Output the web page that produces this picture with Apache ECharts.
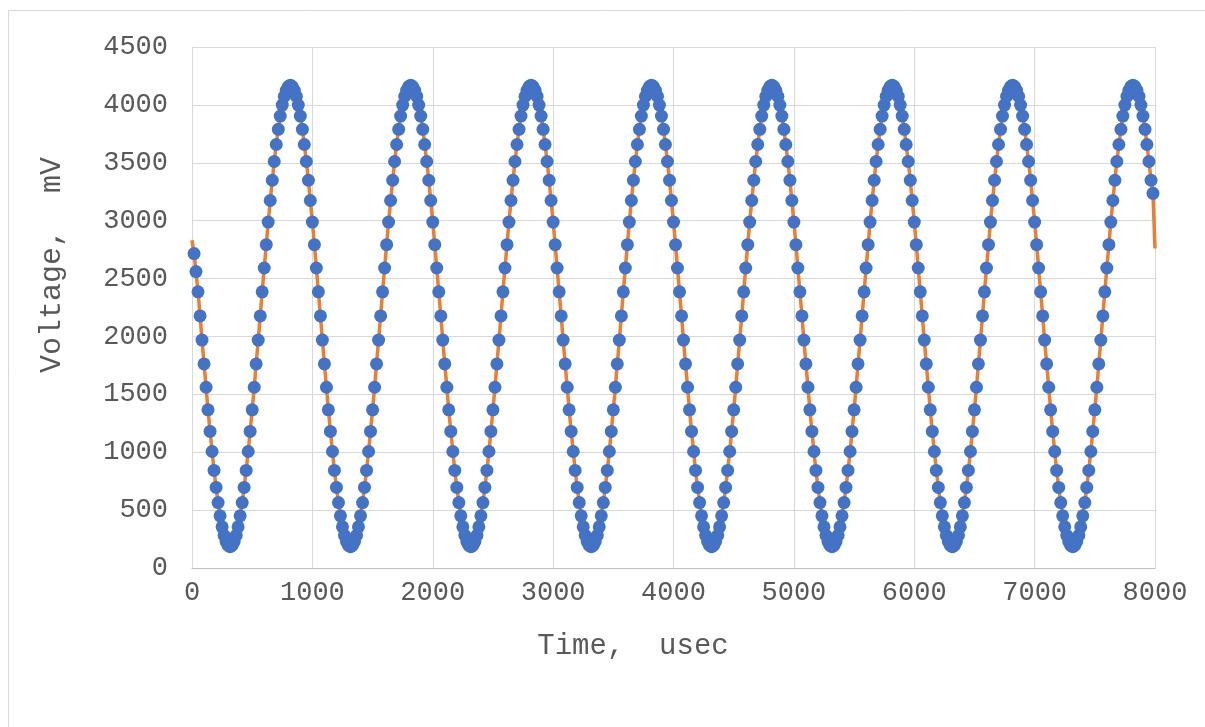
<!DOCTYPE html>
<html>
<head>
<meta charset="utf-8">
<style>
html,body{margin:0;padding:0;background:#fff;}
#chart{width:1205px;height:727px;}
</style>
<script src="https://cdn.jsdelivr.net/npm/echarts@6/dist/echarts.min.js"></script>
</head>
<body>
<div id="chart"></div>
<script>
// Sample times (usec)
const timeUs = [
17,33,50,67,83,100,117,133,150,167,183,200,217,233,250,267,283,300,317,333,350,367,383,400,417,433,450,467,483,500,517,533,550,567,583,600,617,633,650,667,683,700,717,733,750,767,783,800,817,833,850,867,883,900,917,933,950,967,983,1000,
1017,1033,1050,1067,1083,1100,1117,1133,1150,1167,1183,1200,1217,1233,1250,1267,1283,1300,1317,1333,1350,1367,1383,1400,1417,1433,1450,1467,1483,1500,1517,1533,1550,1567,1583,1600,1617,1633,1650,1667,1683,1700,1717,1733,1750,1767,1783,1800,1817,1833,1850,1867,1883,1900,1917,1933,1950,1967,1983,2000,
2017,2033,2050,2067,2083,2100,2117,2133,2150,2167,2183,2200,2217,2233,2250,2267,2283,2300,2317,2333,2350,2367,2383,2400,2417,2433,2450,2467,2483,2500,2517,2533,2550,2567,2583,2600,2617,2633,2650,2667,2683,2700,2717,2733,2750,2767,2783,2800,2817,2833,2850,2867,2883,2900,2917,2933,2950,2967,2983,3000,
3017,3033,3050,3067,3083,3100,3117,3133,3150,3167,3183,3200,3217,3233,3250,3267,3283,3300,3317,3333,3350,3367,3383,3400,3417,3433,3450,3467,3483,3500,3517,3533,3550,3567,3583,3600,3617,3633,3650,3667,3683,3700,3717,3733,3750,3767,3783,3800,3817,3833,3850,3867,3883,3900,3917,3933,3950,3967,3983,4000,
4017,4033,4050,4067,4083,4100,4117,4133,4150,4167,4183,4200,4217,4233,4250,4267,4283,4300,4317,4333,4350,4367,4383,4400,4417,4433,4450,4467,4483,4500,4517,4533,4550,4567,4583,4600,4617,4633,4650,4667,4683,4700,4717,4733,4750,4767,4783,4800,4817,4833,4850,4867,4883,4900,4917,4933,4950,4967,4983,5000,
5017,5033,5050,5067,5083,5100,5117,5133,5150,5167,5183,5200,5217,5233,5250,5267,5283,5300,5317,5333,5350,5367,5383,5400,5417,5433,5450,5467,5483,5500,5517,5533,5550,5567,5583,5600,5617,5633,5650,5667,5683,5700,5717,5733,5750,5767,5783,5800,5817,5833,5850,5867,5883,5900,5917,5933,5950,5967,5983,6000,
6017,6033,6050,6067,6083,6100,6117,6133,6150,6167,6183,6200,6217,6233,6250,6267,6283,6300,6317,6333,6350,6367,6383,6400,6417,6433,6450,6467,6483,6500,6517,6533,6550,6567,6583,6600,6617,6633,6650,6667,6683,6700,6717,6733,6750,6767,6783,6800,6817,6833,6850,6867,6883,6900,6917,6933,6950,6967,6983,7000,
7017,7033,7050,7067,7083,7100,7117,7133,7150,7167,7183,7200,7217,7233,7250,7267,7283,7300,7317,7333,7350,7367,7383,7400,7417,7433,7450,7467,7483,7500,7517,7533,7550,7567,7583,7600,7617,7633,7650,7667,7683,7700,7717,7733,7750,7767,7783,7800,7817,7833,7850,7867,7883,7900,7917,7933,7950,7967,7983
];

// Measured voltage (mV)
const voltageMv = [
2716,2560,2385,2177,1969,1763,1561,1366,1180,1006,843,696,565,451,356,281,228,195,184,195,228,281,356,451,565,696,843,1006,1180,1366,1561,1763,1969,2177,2385,2591,2793,2988,3174,3349,3511,3658,3789,3903,3998,4073,4126,4159,4170,4159,4126,4073,3998,3903,3789,3658,3511,3349,3174,2988,
2793,2591,2385,2177,1969,1763,1561,1366,1180,1006,843,696,565,451,356,281,228,195,184,195,228,281,356,451,565,696,843,1006,1180,1366,1561,1763,1969,2177,2385,2591,2793,2988,3174,3349,3511,3658,3789,3903,3998,4073,4126,4159,4170,4159,4126,4073,3998,3903,3789,3658,3511,3349,3174,2988,
2793,2591,2385,2177,1969,1763,1561,1366,1180,1006,843,696,565,451,356,281,228,195,184,195,228,281,356,451,565,696,843,1006,1180,1366,1561,1763,1969,2177,2385,2591,2793,2988,3174,3349,3511,3658,3789,3903,3998,4073,4126,4159,4170,4159,4126,4073,3998,3903,3789,3658,3511,3349,3174,2988,
2793,2591,2385,2177,1969,1763,1561,1366,1180,1006,843,696,565,451,356,281,228,195,184,195,228,281,356,451,565,696,843,1006,1180,1366,1561,1763,1969,2177,2385,2591,2793,2988,3174,3349,3511,3658,3789,3903,3998,4073,4126,4159,4170,4159,4126,4073,3998,3903,3789,3658,3511,3349,3174,2988,
2793,2591,2385,2177,1969,1763,1561,1366,1180,1006,843,696,565,451,356,281,228,195,184,195,228,281,356,451,565,696,843,1006,1180,1366,1561,1763,1969,2177,2385,2591,2793,2988,3174,3349,3511,3658,3789,3903,3998,4073,4126,4159,4170,4159,4126,4073,3998,3903,3789,3658,3511,3349,3174,2988,
2793,2591,2385,2177,1969,1763,1561,1366,1180,1006,843,696,565,451,356,281,228,195,184,195,228,281,356,451,565,696,843,1006,1180,1366,1561,1763,1969,2177,2385,2591,2793,2988,3174,3349,3511,3658,3789,3903,3998,4073,4126,4159,4170,4159,4126,4073,3998,3903,3789,3658,3511,3349,3174,2988,
2793,2591,2385,2177,1969,1763,1561,1366,1180,1006,843,696,565,451,356,281,228,195,184,195,228,281,356,451,565,696,843,1006,1180,1366,1561,1763,1969,2177,2385,2591,2793,2988,3174,3349,3511,3658,3789,3903,3998,4073,4126,4159,4170,4159,4126,4073,3998,3903,3789,3658,3511,3349,3174,2988,
2793,2591,2385,2177,1969,1763,1561,1366,1180,1006,843,696,565,451,356,281,228,195,184,195,228,281,356,451,565,696,843,1006,1180,1366,1561,1763,1969,2177,2385,2591,2793,2988,3174,3349,3511,3658,3789,3903,3998,4073,4126,4159,4170,4159,4126,4073,3998,3903,3789,3658,3511,3349,3236
];

// Orange reference line end points (time usec, mV)
const refStart = [0, 2830];
const refEnd = [8000, 2760];

// Axis settings
const xTicks = [0, 8000, 1000];
const yTicks = [0, 4500, 500];
const xTitle = 'Time,  usec';
const yTitle = 'Voltage,  mV';

const measured = timeUs.map((t, i) => [t, voltageMv[i]]);
const reference = [refStart].concat(measured, [refEnd]);

const FONT = 'Liberation Mono';
const TXT = '#595959';
const GRID = '#d9d9d9';

const chart = echarts.init(document.getElementById('chart'), null, {renderer: 'canvas'});
chart.setOption({
  animation: false,
  backgroundColor: '#ffffff',
  graphic: [
    {
      type: 'rect',
      shape: {x: 8.5, y: 10.5, width: 1400, height: 900},
      style: {fill: 'none', stroke: GRID, lineWidth: 1},
      silent: true, z: 0
    },
    {
      type: 'text',
      x: 633, y: 646,
      style: {text: xTitle, fontFamily: FONT, fontSize: 29, fill: TXT, align: 'center', verticalAlign: 'middle'},
      silent: true
    },
    {
      type: 'text',
      x: 52, y: 265,
      rotation: Math.PI / 2,
      style: {text: yTitle, fontFamily: FONT, fontSize: 30, fill: TXT, align: 'center', verticalAlign: 'middle'},
      silent: true
    }
  ],
  grid: {left: 192, right: 50, top: 47, bottom: 159, containLabel: false},
  xAxis: {
    type: 'value',
    min: xTicks[0], max: xTicks[1], interval: xTicks[2],
    axisLine: {show: true, lineStyle: {color: '#bfbfbf', width: 1}},
    axisTick: {show: false},
    axisLabel: {fontFamily: FONT, fontSize: 27, color: TXT, margin: 11, formatter: v => String(v)},
    splitLine: {show: true, lineStyle: {color: GRID, width: 1}}
  },
  yAxis: {
    type: 'value',
    min: yTicks[0], max: yTicks[1], interval: yTicks[2],
    axisLine: {show: true, lineStyle: {color: GRID, width: 1}},
    axisTick: {show: false},
    axisLabel: {fontFamily: FONT, fontSize: 27, color: TXT, margin: 24, formatter: v => String(v)},
    splitLine: {show: true, lineStyle: {color: GRID, width: 1}}
  },
  series: [
    {
      name: 'reference',
      type: 'line',
      data: reference,
      showSymbol: false,
      symbol: 'none',
      lineStyle: {color: '#ED7D31', width: 3.5},
      z: 2
    },
    {
      name: 'measured',
      type: 'scatter',
      data: measured,
      symbol: 'circle',
      symbolSize: 13,
      itemStyle: {color: '#4472C4', opacity: 1},
      z: 3
    }
  ]
});
</script>
</body>
</html>
